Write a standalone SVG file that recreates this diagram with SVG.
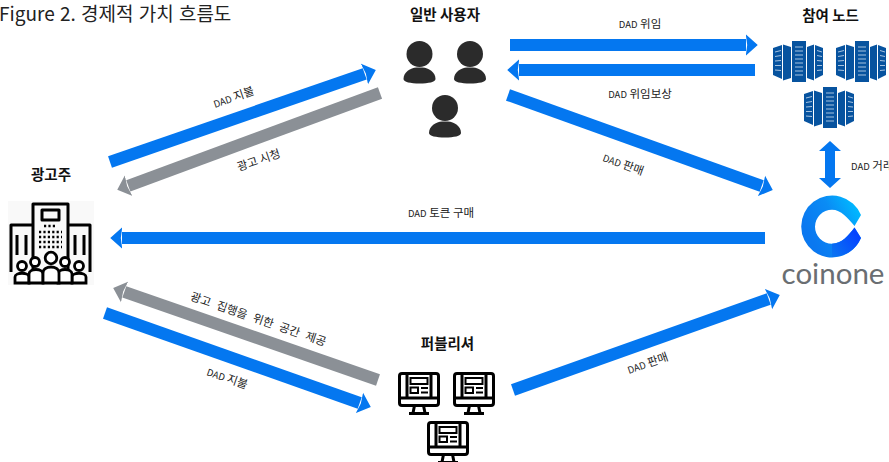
<svg xmlns="http://www.w3.org/2000/svg" width="889" height="462" viewBox="0 0 889 462">
<style>
text{font-family:"Noto Sans CJK KR","Noto Sans",sans-serif;fill:#111}
.title{font-size:19px;fill:#222;word-spacing:1px}
.node{font-size:14.500px;font-weight:700;text-anchor:middle}
.lbl{font-size:11.500px;text-anchor:middle;fill:#222}
.lbl tspan{font-size:9.500px}
.blue{stroke:#0477f0;stroke-width:12;fill:none;marker-end:url(#hb)}
.gray{stroke:#8b9096;stroke-width:12;fill:none;marker-end:url(#hg)}
.ink{fill:none;stroke:#000;stroke-width:3;stroke-linejoin:round}
</style>
<defs>
<marker id="hb" viewBox="0 0 1 2" refX="0.02" refY="1" markerWidth="1" markerHeight="2" orient="auto" markerUnits="strokeWidth"><path d="M0,0.1L1,1L0,1.9L.12,1z" fill="#0477f0"/></marker>
<marker id="hg" viewBox="0 0 1 2" refX="0.02" refY="1" markerWidth="1" markerHeight="2" orient="auto" markerUnits="strokeWidth"><path d="M0,0.1L1,1L0,1.9L.12,1z" fill="#8b9096"/></marker>
<linearGradient id="cg" gradientUnits="userSpaceOnUse" x1="812" y1="240" x2="860" y2="214"><stop offset="0" stop-color="#0a78f0"/><stop offset="0.55" stop-color="#0a8cf5"/><stop offset="1" stop-color="#00b8ff"/></linearGradient>
<linearGradient id="cd" gradientUnits="userSpaceOnUse" x1="828" y1="254" x2="856" y2="234"><stop offset="0" stop-color="#0a78f0"/><stop offset="1" stop-color="#0544ff"/></linearGradient>
<g id="person" fill="#2b2b2b"><circle cx="0" cy="0" r="13"/><path d="M-16,25C-16,18-9,14-3,13.500L3,13.500C9,14 16,18 16,25C16,28 9,29.500 0,29.500C-9,29.500-16,28-16,25z"/></g>
<g id="server"><path fill="#07539f" d="M0,7L9,4L9,38L0,34z M10,3.500L18,6L18,37L10,39.500z M19,0H33V41H19z M34,6L41,3.500V39.500L34,37z M42,4L50,7V34L42,38z"/><path stroke="#b9cfe6" stroke-width="0.9" fill="none" d="M22,6H30M22,10H30M22,14H30M22,18H30M22,22H30M22,26H30M22,30H30M22,34H30M2,11L8,9.500M2,15.500L8,14.500M2,20L8,19.500M2,24.500L8,24.500M2,29L8,29.500M44,9.500L49,11M44,14.500L49,15.500M44,19.500L49,20M44,24.500L49,24.500M44,29.500L49,29"/></g>
<g id="monitor"><rect class="ink" x="1.500" y="1.500" width="39" height="32" rx="2.500"/><path class="ink" d="M1.500,26H40.500M9,1.500V26M33,1.500V26"/><path class="ink" d="M15,41L16.500,33.500H25.500L27,41M11,41.500H31"/><path fill="none" stroke="#000" stroke-width="2" d="M12.500,6H29.500V12H12.500zM12.500,15.500H20V21H12.500zM23,16H30M23,20.500H30"/></g>
</defs>
<text class="title" x="-1" y="21">Figure 2. 경제적 가치 흐름도</text>
<g id="connectors">
<path class="blue" d="M510,45H746"/>
<path class="blue" d="M755,70H519"/>
<path class="blue" d="M508,95L761.700,186"/>
<path class="blue" d="M765,238H122"/>
<path class="blue" d="M110,162L364.700,73.900"/>
<path class="gray" d="M380,93L128.300,185.800"/>
<path class="gray" d="M378,380L124.300,291.900"/>
<path class="blue" d="M105,313L359.700,403"/>
<path class="blue" d="M513,390L768.700,299"/>
<path fill="#0477f0" d="M830,141L841,151H835V178H841L830,188L819,178H825V151H819z"/>
<text class="lbl" x="640" y="28"><tspan>DAD</tspan> 위임</text>
<text class="lbl" x="640" y="98"><tspan>DAD</tspan> 위임보상</text>
<text class="lbl" transform="translate(622,168) rotate(20)"><tspan>DAD</tspan> 판매</text>
<text class="lbl" x="851" y="170" style="text-anchor:start"><tspan>DAD</tspan> 거래</text>
<text class="lbl" x="441" y="217"><tspan>DAD</tspan> 토큰 구매</text>
<text class="lbl" transform="translate(235,101) rotate(-19)"><tspan>DAD</tspan> 지불</text>
<text class="lbl" transform="translate(260,164) rotate(-19)">광고 시청</text>
<text class="lbl" transform="translate(257,323) rotate(19)" style="word-spacing:4px">광고 집행을 위한 공간 제공</text>
<text class="lbl" transform="translate(226,382) rotate(19)"><tspan>DAD</tspan> 지불</text>
<text class="lbl" transform="translate(649,367) rotate(-19)"><tspan>DAD</tspan> 판매</text>
</g>
<g id="node-advertiser">
<text class="node" x="51" y="180">광고주</text>
<rect x="8" y="201" width="86" height="84" fill="#f9f9f9"/>
<path class="ink" d="M33,270V204H68V270M33,225H11V272M68,225H90V272"/>
<rect class="ink" x="42" y="210" width="17" height="10"/>
<path stroke="#000" stroke-width="2.400" stroke-dasharray="2.200 2.200" fill="none" d="M44,226H57M39,232H62M39,237H62M39,242H62M39,247H62"/>
<path class="ink" d="M17,235V255M26,235V255M75,235V255M84,235V255"/>
<g fill="#fff" stroke="#000" stroke-width="2.800">
<circle cx="22" cy="266" r="4.500"/><circle cx="35" cy="262" r="4.500"/><circle cx="65" cy="262" r="4.500"/><circle cx="79" cy="266" r="4.500"/>
<path d="M15,283V277C15,272 29,272 29,277V283z"/><path d="M72,283V277C72,272 86,272 86,277V283z"/>
<path d="M29,283V274C29,268 43,268 43,274V283z"/><path d="M58,283V274C58,268 72,268 72,274V283z"/>
<circle cx="51" cy="258" r="5.800"/><path d="M43,283V273C43,265 59,265 59,273V283z"/>
</g>
</g>
<g id="node-users">
<text class="node" x="445" y="20">일반 사용자</text>
<use href="#person" x="419.500" y="54"/>
<use href="#person" x="470" y="54"/>
<use href="#person" x="445" y="108"/>
</g>
<g id="node-participants">
<text class="node" x="830.500" y="21">참여 노드</text>
<use href="#server" x="773" y="41"/>
<use href="#server" x="836" y="41"/>
<use href="#server" x="804" y="87"/>
</g>
<g id="node-coinone">
<path fill="url(#cg)" d="M861,215A31,31 0 1 0 861,238L854.500,227.500C848,236 842,243.700 832,243.700A17,17 0 1 1 832,209.700C841,209.700 848,218 854.500,226z"/>
<path fill="url(#cd)" d="M854.500,227.500L861,238A31,31 0 0 1 832,257L832,243.700C842,243.700 848,236 854.500,227.500z"/>
<text x="833" y="284" text-anchor="middle" style="font-family:'Lato',sans-serif;font-size:29.500px;font-weight:400;fill:#6a6e72">coinone</text>
</g>
<g id="node-publisher">
<text class="node" x="447.500" y="349">퍼블리셔</text>
<use href="#monitor" x="398" y="372"/>
<use href="#monitor" x="453" y="372"/>
<use href="#monitor" x="427" y="421"/>
</g>
</svg>
